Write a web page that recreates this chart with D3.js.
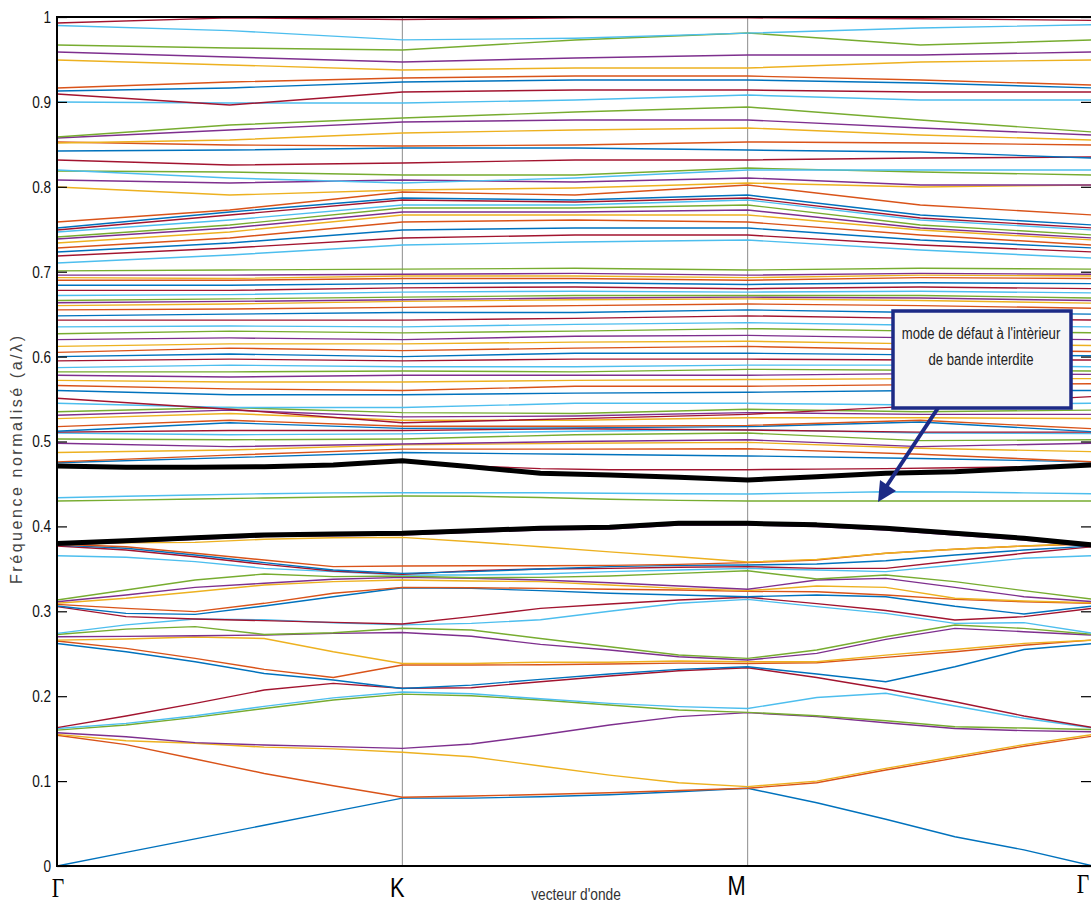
<!DOCTYPE html>
<html>
<head>
<meta charset="utf-8">
<script src="https://cdn.jsdelivr.net/npm/d3@7"></script>
<style>
  html, body { margin: 0; padding: 0; background: #fff; }
  svg { display: block; }
</style>
</head>
<body>
<svg id="chart" width="1091" height="907"></svg>
<script>
// ---- high-symmetry path ----
const kPoints = [0, 1, 2, 3];
const kLabels = ["Γ", "K", "M", "Γ"];

// sampling grids along the path (segment units)
const kFine = [0, 0.2, 0.4, 0.6, 0.8, 1, 1.2, 1.4, 1.6, 1.8, 2, 2.2, 2.4, 2.6, 2.8, 3];
const kCoarse = [0, 0.5, 1, 1.5, 2, 2.5, 3];

// ---- frequency axis ----
const yTicks = [0, 0.1, 0.2, 0.3, 0.4, 0.5, 0.6, 0.7, 0.8, 0.9, 1];
const yTickLabels = ["0", "0.1", "0.2", "0.3", "0.4", "0.5", "0.6", "0.7", "0.8", "0.9", "1"];

// MATLAB default line colour order
const lineColors = ["#0072BD", "#D95319", "#EDB120", "#7E2F8E", "#77AC30", "#4DBEEE", "#A2142F"];

// ---- bands below and around the gap (sampled on kFine) ----
const lowBands = [
  [0, .016, .032, .048, .064, .080, .080, .0815, .084, .0875, .0915, .0745, .055, .0345, .019, 0],
  [.154, .1429, .126, .109, .0945, .081, .0824, .0843, .0862, .089, .0915, .098, .113, .127, .141, .153],
  [.155, .1475, .1445, .140, .138, .134, .1287, .1178, .107, .098, .0935, .100, .115, .129, .143, .155],
  [.157, .1523, .1453, .1425, .1406, .1386, .1437, .1543, .166, .1759, .1806, .1759, .1688, .162, .1594, .158],
  [.160, .166, .175, .1855, .1955, .2025, .2005, .1955, .1896, .1837, .181, .177, .171, .164, .1625, .1608],
  [.162, .168, .177, .188, .198, .205, .2028, .197, .1916, .1877, .1855, .1985, .2034, .1885, .174, .1625],
  [.163, .1767, .1915, .2073, .2151, .2093, .21, .217, .2238, .23, .2335, .222, .2085, .1935, .1767, .163],
  [.262, .2523, .2406, .2268, .219, .209, .2131, .2198, .2262, .2316, .2347, .2261, .217, .2347, .255, .262],
  [.265, .2563, .2446, .2316, .222, .2367, .2367, .237, .238, .239, .2386, .2394, .2457, .2524, .26, .2662],
  [.266, .2673, .2697, .268, .2523, .2386, .2386, .240, .240, .2415, .2405, .2405, .2484, .255, .2622, .266],
  [.270, .2705, .2712, .272, .274, .275, .2706, .261, .2544, .2465, .2426, .2505, .2669, .2799, .276, .272],
  [.2727, .279, .282, .2727, .2747, .280, .278, .268, .2583, .2485, .2445, .2544, .270, .2838, .2799, .2727],
  [.274, .284, .291, .290, .2866, .284, .2858, .290, .300, .3094, .3141, .3055, .2976, .2858, .2866, .274],
  [.3055, .2937, .291, .289, .287, .285, .2937, .3035, .3086, .3133, .3165, .309, .301, .2897, .2937, .3035],
  [.3062, .2976, .2964, .3062, .3172, .3278, .327, .3243, .3212, .3192, .3172, .3192, .3172, .306, .2968, .3062],
  [.3082, .3035, .2996, .3094, .3212, .3282, .3278, .327, .3259, .3251, .3235, .3231, .3192, .3141, .3113, .3094],
  [.3094, .3153, .3231, .331, .3349, .3369, .3357, .3349, .331, .327, .3243, .3298, .3282, .3153, .3121, .3101],
  [.3113, .3192, .3282, .333, .3377, .340, .3388, .3369, .3337, .3298, .3259, .3369, .3388, .3282, .3172, .3113],
  [.3133, .3251, .3369, .3439, .3408, .3416, .3396, .340, .3416, .3447, .3478, .338, .3428, .3349, .3243, .3141],
  [.3655, .3636, .3585, .3506, .3467, .3428, .3428, .3439, .3467, .3486, .3506, .3486, .3467, .3545, .3624, .3655],
  [.3769, .3722, .3643, .3553, .3475, .3435, .3479, .3498, .3506, .3518, .3526, .3506, .3506, .3596, .3683, .3761],
  [.378, .3742, .3663, .3573, .3486, .3447, .3467, .3498, .3526, .3541, .3545, .3557, .3596, .3663, .3722, .3769],
  [.379, .3761, .3683, .3604, .3526, .3533, .3537, .3537, .3541, .3553, .3573, .3604, .3683, .373, .3769, .3794],
  [.378, .3808, .3812, .3848, .3867, .3871, .382, .3761, .370, .3643, .358, .3612, .3683, .373, .3769, .380],
  [.378, .3812, .3847, .3879, .389, .3898, .393, .3957, .397, .4016, .4016, .3998, .3957, .3898, .384, .376],
  [.4299, .431, .4323, .4335, .4347, .4358, .4355, .434, .432, .4306, .4299, .4299, .4299, .4299, .4299, .4299],
  [.4338, .4355, .437, .4385, .4395, .4397, .4397, .4397, .439, .4385, .4382, .4395, .4409, .4405, .4395, .4385],
  [.4715, .4705, .4705, .471, .4725, .4774, .4713, .468, .4668, .4668, .4668, .4675, .468, .469, .470, .4723]
];

// highlighted edges of the band gap (sampled on kFine)
const gapLowerEdge = [.380, .3832, .3867, .3899, .391, .3918, .395, .3977, .399, .4036, .4036, .4018, .3977, .3918, .386, .378];
const gapUpperEdge = [.4711, .4696, .4696, .4703, .4723, .4774, .4703, .4625, .4605, .4578, .4547, .4585, .4625, .4645, .4684, .4723];

// ---- bands above the gap (sampled on kCoarse) ----
const highBands = [
  [.475, .481, .487, .485, .483, .480, .476],
  [.476, .484, .491, .491, .4915, .485, .476],
  [.487, .490, .496, .498, .499, .492, .488],
  [.498, .494, .497, .500, .502, .494, .498],
  [.503, .502, .503, .508, .510, .501, .502],
  [.510, .508, .509, .512, .514, .510, .5095],
  [.511, .513, .513, .515, .5135, .511, .511],
  [.512, .522, .5155, .516, .5175, .523, .5115],
  [.5175, .525, .518, .518, .519, .525, .515],
  [.527, .533, .525, .525, .528, .528, .527],
  [.531, .537, .529, .530, .534, .532, .532],
  [.535, .540, .534, .533, .538, .535, .537],
  [.545, .540, .540, .545, .545, .543, .545],
  [.551, .538, .522, .527, .532, .542, .553],
  [.560, .555, .555, .557, .558, .560, .560],
  [.566, .562, .560, .565, .565, .567, .568],
  [.572, .570, .570, .572, .573, .574, .574],
  [.578, .576, .578, .578, .578, .580, .579],
  [.582, .582, .583, .582, .585, .584, .583],
  [.587, .590, .588, .588, .590, .590, .588],
  [.595, .597, .595, .597, .597, .596, .596],
  [.600, .603, .600, .604, .604, .602, .601],
  [.605, .610, .607, .610, .612, .608, .606],
  [.612, .615, .615, .617, .618, .615, .613],
  [.620, .622, .620, .624, .625, .622, .620],
  [.627, .630, .628, .630, .633, .630, .628],
  [.635, .636, .635, .638, .640, .637, .635],
  [.643, .643, .643, .645, .648, .645, .643],
  [.648, .650, .652, .652, .655, .652, .650],
  [.655, .656, .658, .660, .662, .660, .657],
  [.660, .662, .665, .667, .668, .666, .663],
  [.6635, .665, .667, .669, .670, .669, .666],
  [.666, .668, .670, .672, .672, .672, .669],
  [.672, .673, .676, .677, .676, .677, .675],
  [.678, .678, .681, .682, .680, .682, .680],
  [.684, .684, .686, .687, .685, .687, .686],
  [.690, .690, .692, .692, .690, .693, .692],
  [.693, .692, .695, .695, .693, .696, .695],
  [.696, .696, .697, .698, .696, .698, .697],
  [.701, .702, .703, .704, .702, .704, .703],
  [.7102, .7197, .7314, .735, .7373, .7256, .7161],
  [.7185, .7279, .7397, .7432, .7432, .7314, .7232],
  [.7232, .7338, .7491, .7515, .7515, .7373, .7279],
  [.7279, .7397, .7585, .7609, .7585, .7432, .7314],
  [.7338, .7468, .7668, .7668, .7668, .7491, .7373],
  [.7385, .7515, .7703, .7703, .7727, .7515, .7397],
  [.7409, .755, .775, .775, .7786, .755, .7432],
  [.7468, .7609, .7786, .7786, .7845, .7609, .7491],
  [.7491, .7668, .7845, .7821, .7868, .7633, .7515],
  [.7515, .7703, .7868, .7845, .7903, .7668, .755],
  [.7585, .7727, .7939, .7903, .8021, .7786, .7668],
  [.7998, .7903, .7962, .7986, .8045, .7998, .8021],
  [.808, .8045, .808, .8057, .8104, .8021, .8021],
  [.8186, .8174, .8139, .8139, .8221, .8174, .8139],
  [.8198, .8104, .8045, .8104, .8198, .8198, .8198],
  [.8316, .8257, .828, .8316, .8316, .8339, .8351],
  [.8422, .8433, .8457, .8457, .8433, .841, .8339],
  [.8528, .8492, .8481, .8492, .8528, .8516, .8492],
  [.8516, .8551, .8634, .8669, .8693, .861, .8551],
  [.8575, .8669, .8763, .8787, .8787, .8693, .861],
  [.8587, .8728, .881, .8881, .894, .8787, .8645],
  [.8999, .8987, .8987, .9022, .9081, .9022, .9022],
  [.9093, .8963, .9117, .914, .914, .9117, .9117],
  [.9128, .9164, .9234, .9258, .9258, .9223, .9164],
  [.9164, .9234, .9282, .9305, .9305, .9258, .9199],
  [.9494, .9435, .9376, .9399, .9399, .947, .9494],
  [.9588, .9529, .947, .9517, .9552, .9552, .9588],
  [.967, .9635, .9611, .9729, .9812, .967, .9729],
  [.990, .984, .973, .975, .981, .987, .991],
  [.993, .999, .997, .999, .999, .998, .996]
];

// ---- annotation ----
const noteLines = ["mode de défaut à l'intèrieur", "de bande interdite"];

// ---- layout ----
const svg = d3.select("#chart");
const plot = { left: 57, right: 1093, top: 17, bottom: 866 };
const sansFont = "Liberation Sans, Arial, sans-serif";
const narrowX = 0.8;   // horizontal squeeze for the condensed labels

const x = d3.scaleLinear().domain([0, 3]).range([plot.left, plot.right]);
const y = d3.scaleLinear().domain([0, 1]).range([plot.bottom, plot.top]);

// place a horizontally condensed text label
function narrowText(parent, tx, ty, str, size, opts = {}) {
  return parent.append("text")
    .attr("transform", `translate(${tx},${ty}) scale(${opts.sx || narrowX},1)`)
    .attr("text-anchor", opts.anchor || "middle")
    .attr("font-family", opts.family || sansFont)
    .attr("font-size", size)
    .attr("fill", opts.fill || "#000")
    .text(str);
}

svg.append("defs").append("clipPath").attr("id", "plotClip")
  .append("rect")
  .attr("x", plot.left).attr("y", plot.top - 1)
  .attr("width", plot.right - plot.left).attr("height", plot.bottom - plot.top + 2);

// vertical markers at K and M
svg.append("g").selectAll("line")
  .data(kPoints.slice(1, 3))
  .join("line")
  .attr("x1", d => x(d)).attr("x2", d => x(d))
  .attr("y1", plot.top).attr("y2", plot.bottom)
  .attr("stroke", "#8c8c8c").attr("stroke-width", 1);

const bandsG = svg.append("g").attr("clip-path", "url(#plotClip)");

const lineFine = d3.line().x((d, i) => x(kFine[i])).y(d => y(d));
const lineCoarse = d3.line().x((d, i) => x(kCoarse[i])).y(d => y(d));

bandsG.selectAll("path.low")
  .data(lowBands)
  .join("path")
  .attr("class", "low")
  .attr("d", d => lineFine(d))
  .attr("fill", "none")
  .attr("stroke", (d, i) => lineColors[i % 7])
  .attr("stroke-width", 1.4);

bandsG.selectAll("path.high")
  .data(highBands)
  .join("path")
  .attr("class", "high")
  .attr("d", d => lineCoarse(d))
  .attr("fill", "none")
  .attr("stroke", (d, i) => lineColors[(i + lowBands.length) % 7])
  .attr("stroke-width", 1.4);

// gap edges in bold black
bandsG.selectAll("path.edge")
  .data([gapLowerEdge, gapUpperEdge])
  .join("path")
  .attr("class", "edge")
  .attr("d", d => lineFine(d))
  .attr("fill", "none")
  .attr("stroke", "#000")
  .attr("stroke-width", 5)
  .attr("stroke-linejoin", "round");

// ---- axes ----
const yAxisLeft = d3.axisLeft(y)
  .tickValues(yTicks)
  .tickFormat((d, i) => yTickLabels[i])
  .tickSizeInner(-10).tickSizeOuter(0).tickPadding(6);

const gl = svg.append("g").attr("transform", `translate(${plot.left},0)`).call(yAxisLeft);
gl.select(".domain").remove();
gl.selectAll(".tick line").attr("stroke", "#000").attr("stroke-width", 1.2);
gl.selectAll(".tick text")
  .attr("x", -6 / narrowX)
  .attr("transform", `scale(${narrowX},1)`)
  .attr("font-family", sansFont)
  .attr("font-size", 17)
  .attr("fill", "#111");

const yAxisRight = d3.axisRight(y)
  .tickValues(yTicks)
  .tickFormat("")
  .tickSizeInner(-10).tickSizeOuter(0);
const gr = svg.append("g").attr("transform", `translate(${plot.right - 2},0)`).call(yAxisRight);
gr.select(".domain").remove();
gr.selectAll(".tick line").attr("stroke", "#000").attr("stroke-width", 1.2);

// frame
svg.append("rect")
  .attr("x", plot.left).attr("y", plot.top)
  .attr("width", plot.right - plot.left).attr("height", plot.bottom - plot.top)
  .attr("fill", "none").attr("stroke", "#000").attr("stroke-width", 2);

// k-point labels
const kLabelG = svg.append("g");
const kLabelShift = [1, -5, -11, -10];
const kLabelBase = [897, 897, 895, 893];
kPoints.forEach((d, i) => {
  const isGamma = kLabels[i] === "Γ";
  narrowText(kLabelG, x(d) + kLabelShift[i], kLabelBase[i], kLabels[i], isGamma ? 27 : 28, {
    family: isGamma ? "Liberation Serif, serif" : sansFont,
    sx: isGamma ? 0.8 : 0.78
  });
});

// axis titles
narrowText(svg, 576, 900, "vecteur d'onde", 16, { fill: "#333", sx: 0.86 });

svg.append("text")
  .attr("transform", "translate(22,460) rotate(-90)")
  .attr("text-anchor", "middle")
  .attr("font-family", sansFont)
  .attr("font-size", 16)
  .attr("textLength", 248)
  .attr("lengthAdjust", "spacing")
  .attr("fill", "#444")
  .text("Fréquence normalisé (a/λ)");

// ---- annotation box with arrow ----
const note = svg.append("g");
const box = { x: 893, y: 311, w: 178, h: 97 };
const navy = "#1c2a86";

note.append("line")
  .attr("x1", 938).attr("y1", box.y + box.h)
  .attr("x2", 886).attr("y2", 487)
  .attr("stroke", navy).attr("stroke-width", 4);
note.append("path")
  .attr("d", "M878,502 L880,480 L896,491 Z")
  .attr("fill", navy);

note.append("rect")
  .attr("x", box.x).attr("y", box.y)
  .attr("width", box.w).attr("height", box.h)
  .attr("fill", "#f5f5f6")
  .attr("stroke", navy).attr("stroke-width", 3.5);

noteLines.forEach((line, i) => {
  narrowText(note, box.x + box.w / 2 - 1, 339 + i * 26, line, 16, { fill: "#222", sx: 0.82 });
});
</script>
</body>
</html>
